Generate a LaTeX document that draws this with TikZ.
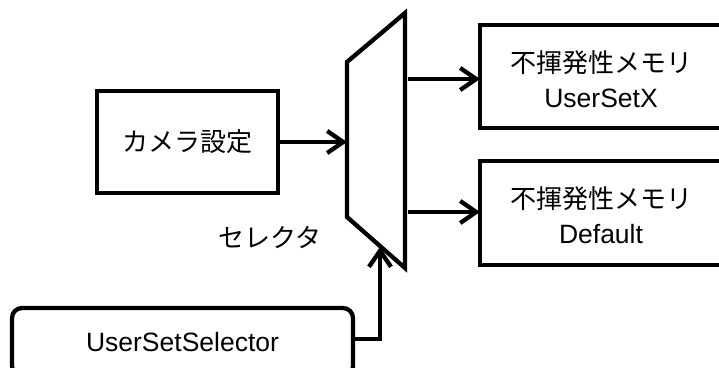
\documentclass[tikz,border=0pt]{standalone}
\usepackage{fontspec}
\setmainfont{Liberation Sans}
\newfontfamily\jp{Noto Sans CJK JP}
\usetikzlibrary{arrows.meta}
\begin{document}
\begin{tikzpicture}[x=1pt,y=-1pt,
  every node/.style={inner sep=0pt,outer sep=0pt},
  blk/.style={draw,line width=4.3pt,rectangle,align=center},
  lbl/.style={font=\fontsize{26.5}{35}\selectfont},
  conn/.style={line width=4.3pt,-{Straight Barb[length=16pt,width=22pt,line width=4.3pt]}}]
\useasboundingbox (0,0) rectangle (719,367);
\fill[white] (0,0) rectangle (719,367);
% mux trapezoid
\coordinate (mtl) at (347,62);
\coordinate (mtr) at (405,13);
\coordinate (mbr) at (405,268);
\coordinate (mbl) at (347,217);
\draw[line width=4.3pt,line join=miter] (mtl) -- (mtr) -- (mbr) -- (mbl) -- cycle;
\coordinate (min) at (347,142);
\coordinate (mo1) at (408,79);
\coordinate (mo2) at (408,212);
\coordinate (msel) at (380,247);
% nodes
\node[blk,lbl,minimum width=181pt,minimum height=102pt] (cam) at (187.5,142) {\jp\fontsize{26}{35}\selectfont カメラ設定};
\node[blk,minimum width=245pt,minimum height=103pt] (nv1) at (602.5,76.5) {};
\node[lbl,align=center] (nv1t) at (601,79.5) {{\jp\fontsize{26}{35}\selectfont 不揮発性メモリ}\\UserSetX};
\node[blk,minimum width=245pt,minimum height=104pt] (nv2) at (602.5,213) {};
\node[lbl,align=center] (nv2t) at (601,215) {{\jp\fontsize{26}{35}\selectfont 不揮発性メモリ}\\Default};
\node[blk,lbl,rounded corners=10pt,minimum width=341pt,minimum height=68pt] (sel) at (182.5,342) {UserSetSelector};
\node[lbl] (seltxt) at (270,237) {\jp\fontsize{26}{35}\selectfont セレクタ};
% connectors
\draw[conn] (cam.east) -- (min);
\draw[conn] (mo1) -- (nv1.west |- mo1);
\draw[conn] (mo2) -- (nv2.west |- mo2);
\draw[conn,line join=miter] (sel.east |- 0,339) -| (msel);
\end{tikzpicture}
\end{document}
